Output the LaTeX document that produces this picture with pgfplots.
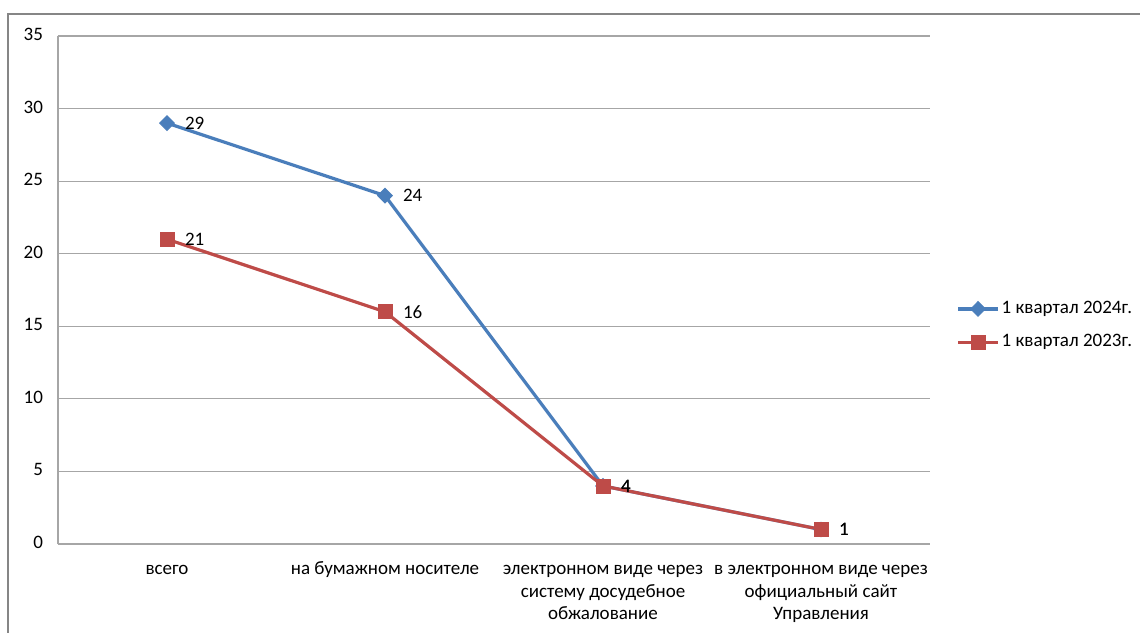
\documentclass[border=0pt]{standalone}
\usepackage{pgfplots}
\pgfplotsset{compat=1.18}
\usepackage{fontspec}
\setmainfont{Carlito}

\definecolor{serblue}{HTML}{4A7EBB}
\definecolor{serred}{HTML}{BE4B48}
\definecolor{gridgray}{HTML}{A6A6A6}
\definecolor{framegray}{HTML}{868686}

\begin{document}
\begin{tikzpicture}[x=1pt,y=1pt]
\useasboundingbox (0,0) rectangle (570,316);
\fill[white] (0,0) rectangle (570,316);
\draw[framegray, line width=0.7pt] (4,-20) -- (4,309) -- (600,309);
\begin{axis}[
  at={(29pt,44pt)}, anchor=south west,
  scale only axis, width=436pt, height=254pt,
  xmin=-0.5, xmax=3.5, ymin=0, ymax=35,
  xtick={0,1,2,3},
  xticklabels={всего, на бумажном носителе,
    {электронном виде через\\систему досудебное\\обжалование},
    {в электронном виде через\\официальный сайт\\Управления}},
  ytick={0,5,...,35},
  axis lines=left,
  axis line style={gridgray, line width=0.6pt, -},
  ymajorgrids, major grid style={gridgray, line width=0.6pt},
  major tick length=0pt,
  tick label style={font=\fontsize{9.5}{11.2}\selectfont, black},
  x tick label style={align=center, anchor=north, yshift=-4pt},
  typeset ticklabels with strut,
  y tick label style={xshift=-4pt},
  /pgf/number format/assume math mode=true,
  clip=false,
  nodes near coords, point meta=explicit symbolic,
  every node near coord/.append style={anchor=west, xshift=5.5pt, yshift=0pt,
    font=\fontsize{9.5}{11}\selectfont, black},
  legend style={at={(1.023,0.43)}, anchor=west, draw=none, fill=none,
    font=\fontsize{9.5}{11}\selectfont, row sep=5pt,
    legend cell align=left, nodes={inner xsep=1pt}},
  legend image code/.code={\draw[mark repeat=2,mark phase=2] plot coordinates {(0pt,0pt)(10pt,0pt)(20pt,0pt)};},
]
\addplot[serblue, line width=1.6pt, mark=diamond*, mark size=3.7pt,
  mark options={xscale=1.33, solid, line width=0.4pt}] coordinates {
  (0,29) [29]
  (1,24) [24]
  (2,4) [4]
  (3,1) [1]
};
\addlegendentry{1 квартал 2024г.}
\addplot[serred, line width=1.6pt, mark=square*, mark size=3.5pt,
  mark options={solid, line width=0.4pt}] coordinates {
  (0,21) [21]
  (1,16) [16]
  (2,4) [4]
  (3,1) [1]
};
\addlegendentry{1 квартал 2023г.}
\end{axis}
\end{tikzpicture}
\end{document}
